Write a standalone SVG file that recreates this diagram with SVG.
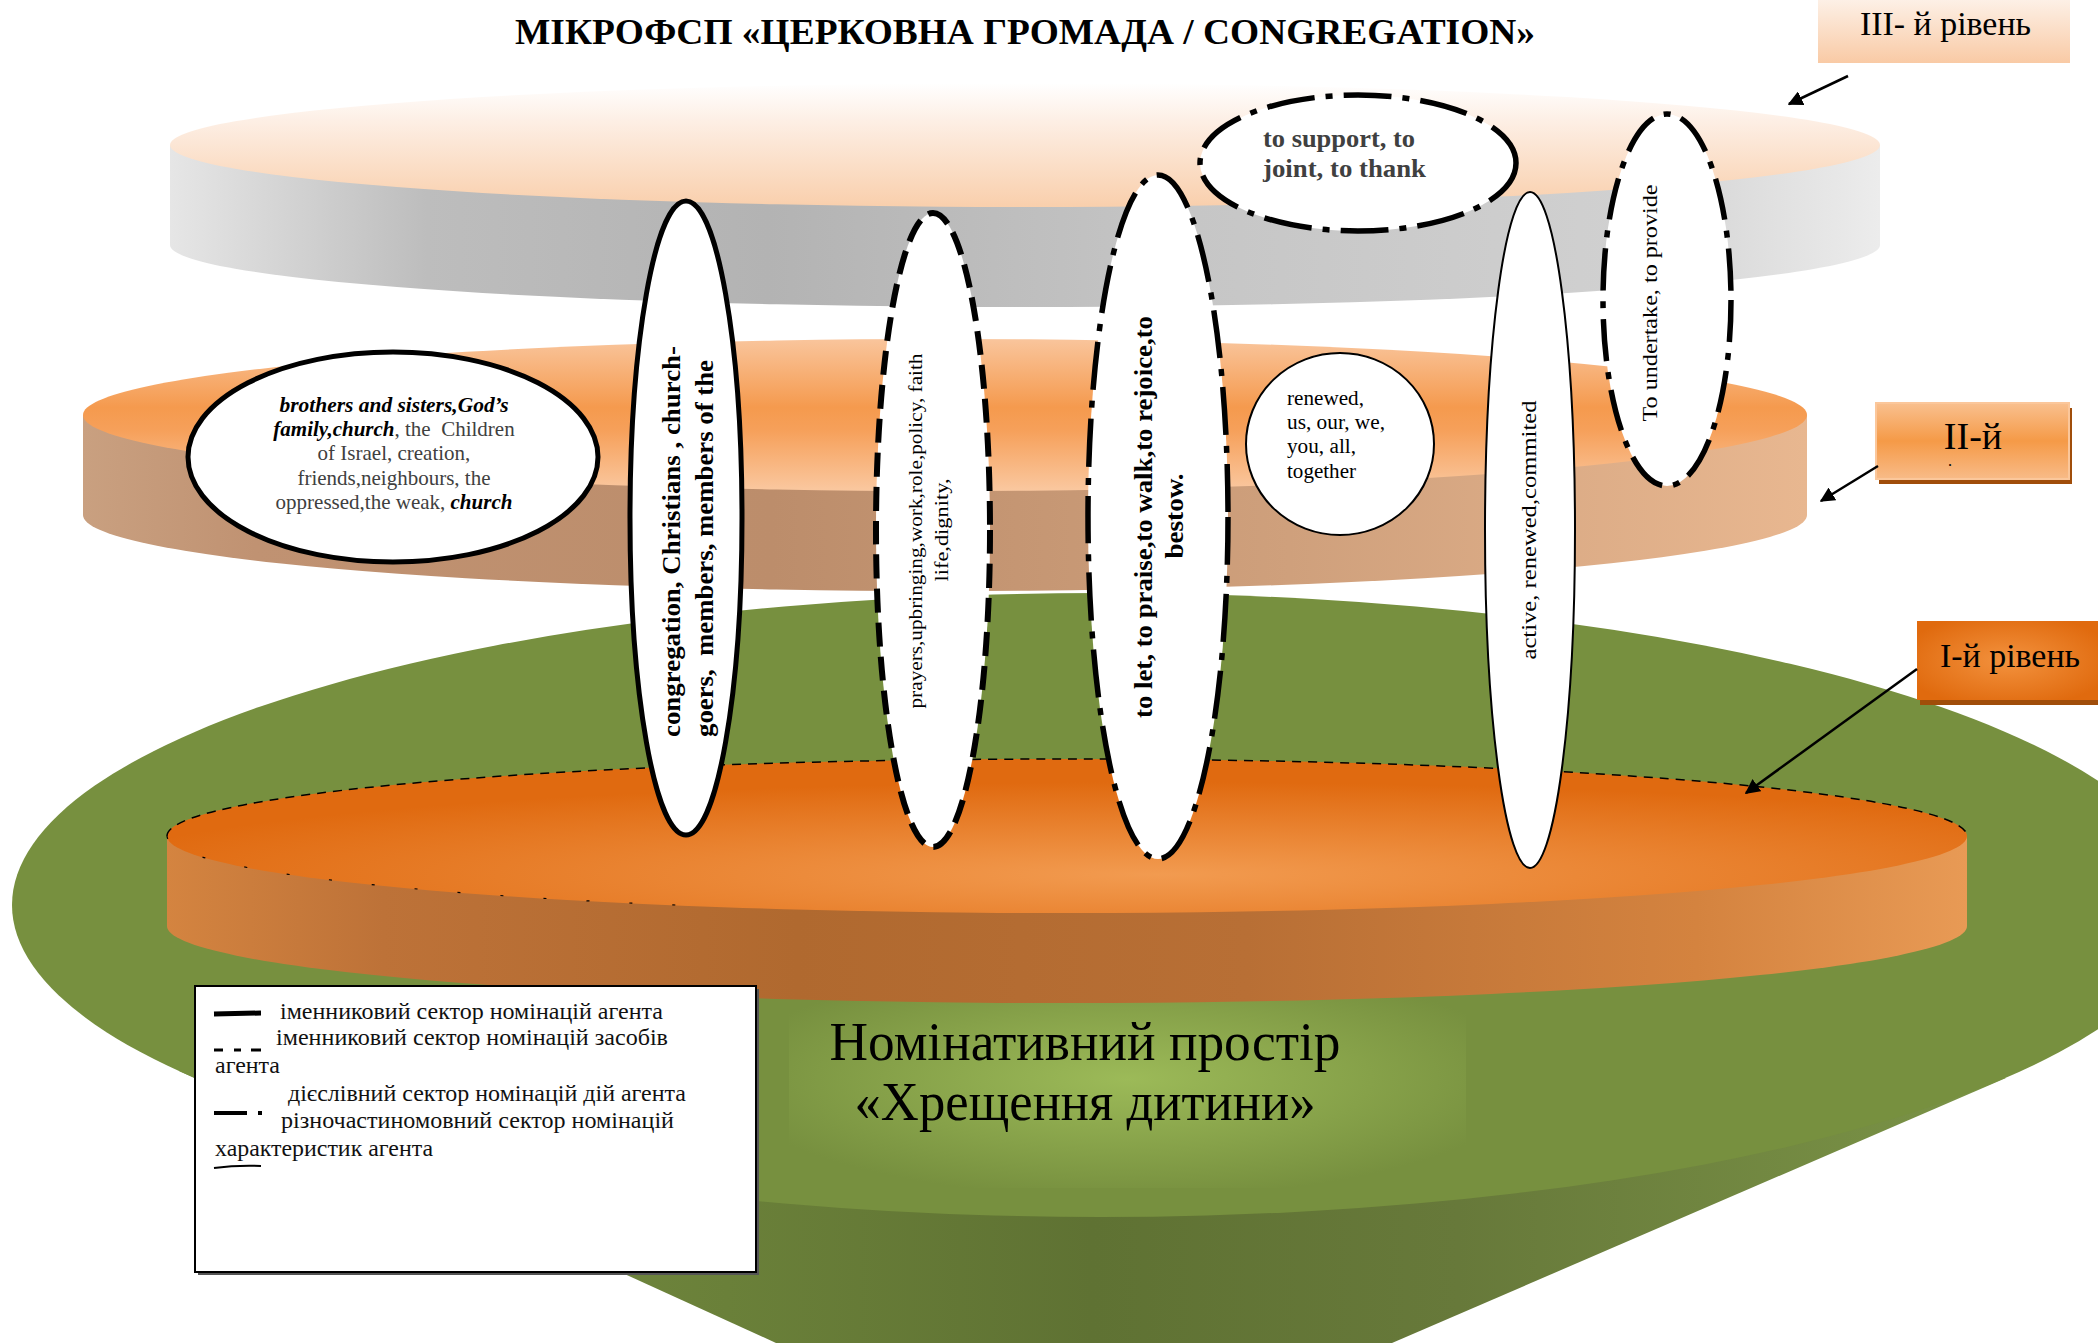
<svg xmlns="http://www.w3.org/2000/svg" width="2098" height="1343" viewBox="0 0 2098 1343">
<style>
  text { font-family: "Liberation Serif", "DejaVu Serif", serif; fill: #000; }
  .node { fill: #fff; stroke: #000; }
  .solid { stroke-width: 5; }
  .thin { stroke-width: 2; }
  .dashed { stroke-width: 6; stroke-dasharray: 24 10; }
  .dashdot { stroke-width: 5.5; stroke-dasharray: 48 11 7 11; }
  .b { font-weight: bold; }
  .bi { font-weight: bold; font-style: italic; fill: #000; }
  .gray { fill: #404040; }
  .leg { font-size: 23px; fill: #111; }
  .lbl { stroke: #000; stroke-width: 2.5; fill: none; }
</style>
<defs>
  <linearGradient id="grayWall" gradientUnits="userSpaceOnUse" x1="170" y1="0" x2="1880" y2="0">
    <stop offset="0" stop-color="#e6e6e6"/>
    <stop offset="0.15" stop-color="#bdbdbd"/>
    <stop offset="0.35" stop-color="#b3b3b3"/>
    <stop offset="0.6" stop-color="#c6c6c6"/>
    <stop offset="0.85" stop-color="#d0d0d0"/>
    <stop offset="1" stop-color="#ececec"/>
  </linearGradient>
  <linearGradient id="peachTop" gradientUnits="userSpaceOnUse" x1="0" y1="83" x2="0" y2="207">
    <stop offset="0" stop-color="#ffffff"/>
    <stop offset="0.3" stop-color="#fdefe5"/>
    <stop offset="1" stop-color="#f9cfac"/>
  </linearGradient>
  <linearGradient id="brownWall" gradientUnits="userSpaceOnUse" x1="83" y1="0" x2="1807" y2="0">
    <stop offset="0" stop-color="#c9a080"/>
    <stop offset="0.1" stop-color="#c09272"/>
    <stop offset="0.4" stop-color="#bc8d6b"/>
    <stop offset="0.7" stop-color="#cfa07c"/>
    <stop offset="1" stop-color="#e8b790"/>
  </linearGradient>
  <linearGradient id="orangeTop" gradientUnits="userSpaceOnUse" x1="0" y1="339" x2="0" y2="491">
    <stop offset="0" stop-color="#f9c59c"/>
    <stop offset="0.45" stop-color="#f59a4e"/>
    <stop offset="0.6" stop-color="#f6a05a"/>
    <stop offset="1" stop-color="#fac8a0"/>
  </linearGradient>
  <linearGradient id="lowWall" gradientUnits="userSpaceOnUse" x1="167" y1="0" x2="1967" y2="0">
    <stop offset="0" stop-color="#d48440"/>
    <stop offset="0.12" stop-color="#bd7238"/>
    <stop offset="0.35" stop-color="#b0692f"/>
    <stop offset="0.6" stop-color="#b86f35"/>
    <stop offset="0.85" stop-color="#d4833f"/>
    <stop offset="1" stop-color="#e89a55"/>
  </linearGradient>
  <radialGradient id="lowTop" cx="0.55" cy="0.75" r="0.6">
    <stop offset="0" stop-color="#f29b50"/>
    <stop offset="1" stop-color="#e06a10"/>
  </radialGradient>
  <linearGradient id="cone" gradientUnits="userSpaceOnUse" x1="179" y1="0" x2="2006" y2="0">
    <stop offset="0" stop-color="#7a9247"/>
    <stop offset="0.3" stop-color="#6a8039"/>
    <stop offset="0.5" stop-color="#5f7233"/>
    <stop offset="0.7" stop-color="#67793a"/>
    <stop offset="1" stop-color="#7b9447"/>
  </linearGradient>
  <radialGradient id="glow" cx="0.5" cy="0.45" r="0.6">
    <stop offset="0" stop-color="#9cba58"/>
    <stop offset="0.6" stop-color="#86a149"/>
    <stop offset="1" stop-color="#77903f"/>
  </radialGradient>
  <linearGradient id="lbl3" x1="0" y1="0" x2="0" y2="1">
    <stop offset="0" stop-color="#fdf0e6"/>
    <stop offset="1" stop-color="#f9caa5"/>
  </linearGradient>
  <linearGradient id="lbl2" x1="0" y1="0" x2="0" y2="1">
    <stop offset="0" stop-color="#f9c08f"/>
    <stop offset="0.5" stop-color="#f59a47"/>
    <stop offset="1" stop-color="#f8bb88"/>
  </linearGradient>
  <radialGradient id="lbl1" cx="0.5" cy="0.5" r="0.6">
    <stop offset="0" stop-color="#f3923e"/>
    <stop offset="1" stop-color="#e06a0e"/>
  </radialGradient>
  <marker id="arrow" viewBox="0 0 10 10" refX="9" refY="5" markerWidth="6" markerHeight="6" orient="auto" markerUnits="strokeWidth">
    <path d="M0,0 L10,5 L0,10 z" fill="#000"/>
  </marker>
</defs>

<g id="space-base">
  <path d="M179,1071 L776,1343 L1392,1343 L2006,1078 Z" fill="url(#cone)"/>
  <ellipse cx="1100" cy="905" rx="1088" ry="312" fill="#77903f"/>
  <rect x="789" y="990" width="677" height="198" fill="url(#glow)"/>
</g>

<g id="level1-disk">
  <path d="M167,836 V926 A900,77 0 0 0 1967,926 V836 Z" fill="url(#lowWall)"/>
  <ellipse cx="1067" cy="836" rx="900" ry="77" fill="url(#lowTop)"/>
  <path d="M167,836 A900,77 0 0 1 1967,836" fill="none" stroke="#000" stroke-width="1.5" stroke-dasharray="9 7"/>
  <path d="M167,836 A900,77 0 0 0 700,906" fill="none" stroke="#000" stroke-width="1.2" stroke-dasharray="3 40"/>
</g>

<g id="level2-disk">
  <path d="M83,415 V515 A862,76 0 0 0 1807,515 V415 Z" fill="url(#brownWall)"/>
  <ellipse cx="945" cy="415" rx="862" ry="76" fill="url(#orangeTop)"/>
</g>

<g id="level3-disk">
  <path d="M170,145 V245 A855,62 0 0 0 1880,245 V145 Z" fill="url(#grayWall)"/>
  <ellipse cx="1025" cy="145" rx="855" ry="62" fill="url(#peachTop)"/>
</g>

<g id="space-label">
  <text x="1085" y="1060" text-anchor="middle" font-size="54" textLength="511" lengthAdjust="spacingAndGlyphs">Номінативний простір</text>
  <text x="1085" y="1120" text-anchor="middle" font-size="54" textLength="461" lengthAdjust="spacingAndGlyphs">«Хрещення дитини»</text>
</g>

<g id="legend">
  <rect x="198" y="989" width="561" height="286" fill="#555"/>
  <rect x="195" y="986" width="561" height="286" fill="#fff" stroke="#000" stroke-width="2"/>
  <line x1="214" y1="1014" x2="261" y2="1013" stroke="#000" stroke-width="5"/>
  <path d="M214,1050 H223 M234,1050 H241 M251,1050 H261" stroke="#000" stroke-width="3"/>
  <path d="M214,1113 H247 M258,1113 H262" stroke="#000" stroke-width="4"/>
  <path d="M214,1168 Q237,1165 261,1166" stroke="#000" stroke-width="2" fill="none"/>
  <text class="leg" x="280" y="1019" textLength="383" lengthAdjust="spacingAndGlyphs">іменниковий сектор номінацій агента</text>
  <text class="leg" x="276" y="1045" textLength="392" lengthAdjust="spacingAndGlyphs">іменниковий сектор номінацій засобів</text>
  <text class="leg" x="215" y="1073" textLength="65" lengthAdjust="spacingAndGlyphs">агента</text>
  <text class="leg" x="288" y="1101" textLength="398" lengthAdjust="spacingAndGlyphs">дієслівний сектор номінацій дій агента</text>
  <text class="leg" x="281" y="1128" textLength="393" lengthAdjust="spacingAndGlyphs">різночастиномовний сектор номінацій</text>
  <text class="leg" x="215" y="1156" textLength="218" lengthAdjust="spacingAndGlyphs">характеристик агента</text>
</g>

<text id="title" x="1025" y="44" text-anchor="middle" class="b" font-size="36" textLength="1020" lengthAdjust="spacingAndGlyphs">МІКРОФСП «ЦЕРКОВНА ГРОМАДА / CONGREGATION»</text>

<g id="node-agent-noun-2">
  <ellipse class="node solid" cx="393" cy="457" rx="205" ry="105"/>
  <g font-size="21" text-anchor="middle">
    <text x="394" y="412" class="bi" textLength="229" lengthAdjust="spacingAndGlyphs">brothers and sisters,God’s</text>
    <text x="394" y="436" xml:space="preserve"><tspan class="bi">family,church</tspan><tspan class="gray">, the  Children</tspan></text>
    <text x="394" y="460" class="gray">of Israel, creation,</text>
    <text x="394" y="485" class="gray">friends,neighbours, the</text>
    <text x="394" y="509"><tspan class="gray">oppressed,the weak, </tspan><tspan class="bi">church</tspan></text>
  </g>
</g>

<g id="node-agent-noun-1">
  <ellipse class="node solid" cx="686" cy="518" rx="56" ry="317"/>
  <text x="680" y="737" transform="rotate(-90 680 737)" class="b" font-size="26" textLength="391" lengthAdjust="spacingAndGlyphs">congregation, Christians , church-</text>
  <text x="713" y="737" transform="rotate(-90 713 737)" class="b" font-size="26" textLength="377" lengthAdjust="spacingAndGlyphs" xml:space="preserve">goers,  members, members of the</text>
</g>

<g id="node-agent-means">
  <ellipse class="node dashed" cx="933" cy="530" rx="57" ry="317"/>
  <text x="922" y="531" transform="rotate(-90 922 531)" text-anchor="middle" font-size="18" textLength="355" lengthAdjust="spacingAndGlyphs">prayers,upbringing,work,role,policy, faith</text>
  <text x="948" y="530" transform="rotate(-90 948 530)" text-anchor="middle" font-size="18" textLength="103" lengthAdjust="spacingAndGlyphs">life,dignity,</text>
</g>

<g id="node-agent-actions-1">
  <ellipse class="node dashdot" cx="1158" cy="517" rx="70" ry="342"/>
  <text x="1152" y="517" transform="rotate(-90 1152 517)" text-anchor="middle" class="b" font-size="25" textLength="402" lengthAdjust="spacingAndGlyphs">to let, to praise,to walk,to rejoice,to</text>
  <text x="1183" y="516" transform="rotate(-90 1183 516)" text-anchor="middle" class="b" font-size="25" textLength="85" lengthAdjust="spacingAndGlyphs">bestow.</text>
</g>

<g id="node-agent-actions-2">
  <ellipse class="node dashdot" cx="1358" cy="163" rx="158" ry="68"/>
  <text x="1263" y="147" class="b gray" font-size="25" textLength="152" lengthAdjust="spacingAndGlyphs">to support, to</text>
  <text x="1263" y="177" class="b gray" font-size="25" textLength="163" lengthAdjust="spacingAndGlyphs">joint, to thank</text>
</g>

<g id="node-agent-features-1">
  <ellipse class="node thin" cx="1340" cy="444" rx="94" ry="91"/>
  <g font-size="20">
    <text x="1287" y="405" textLength="77" lengthAdjust="spacingAndGlyphs">renewed,</text>
    <text x="1287" y="429" textLength="98" lengthAdjust="spacingAndGlyphs">us, our, we,</text>
    <text x="1287" y="453" textLength="69" lengthAdjust="spacingAndGlyphs">you, all,</text>
    <text x="1287" y="478" textLength="69" lengthAdjust="spacingAndGlyphs">together</text>
  </g>
</g>

<g id="node-agent-features-2">
  <ellipse class="node thin" cx="1530" cy="530" rx="45" ry="338"/>
  <text x="1536" y="530" transform="rotate(-90 1536 530)" text-anchor="middle" font-size="20" textLength="259" lengthAdjust="spacingAndGlyphs">active, renewed,commited</text>
</g>

<g id="node-agent-actions-3">
  <ellipse class="node dashdot" cx="1667" cy="300" rx="64" ry="186" style="stroke-dasharray:42 11 7 11"/>
  <text x="1657" y="303" transform="rotate(-90 1657 303)" text-anchor="middle" font-size="21" textLength="237" lengthAdjust="spacingAndGlyphs">To undertake, to provide</text>
</g>

<g id="label-level3">
  <rect x="1818" y="0" width="252" height="63" fill="url(#lbl3)"/>
  <text x="1860" y="35" font-size="34" textLength="171" lengthAdjust="spacingAndGlyphs">ІІІ- й рівень</text>
</g>

<g id="label-level2">
  <rect x="1879" y="408" width="193" height="76" fill="#a04d0a"/>
  <rect x="1876" y="403" width="193" height="76" fill="url(#lbl2)" stroke="#fbc79b" stroke-width="2"/>
  <text x="1973" y="449" text-anchor="middle" font-size="38">II-й</text>
  <text x="1948" y="466" font-size="16">.</text>
</g>

<g id="label-level1">
  <rect x="1920" y="626" width="178" height="79" fill="#a04d0a"/>
  <rect x="1917" y="621" width="181" height="79" fill="url(#lbl1)"/>
  <text x="1940" y="667" font-size="34" textLength="140" lengthAdjust="spacingAndGlyphs">І-й рівень</text>
</g>

<g id="connectors">
  <line class="lbl" x1="1848" y1="76" x2="1789" y2="104" marker-end="url(#arrow)"/>
  <line class="lbl" x1="1878" y1="466" x2="1821" y2="501" marker-end="url(#arrow)"/>
  <line class="lbl" x1="1917" y1="669" x2="1746" y2="793" marker-end="url(#arrow)"/>
</g>
</svg>
